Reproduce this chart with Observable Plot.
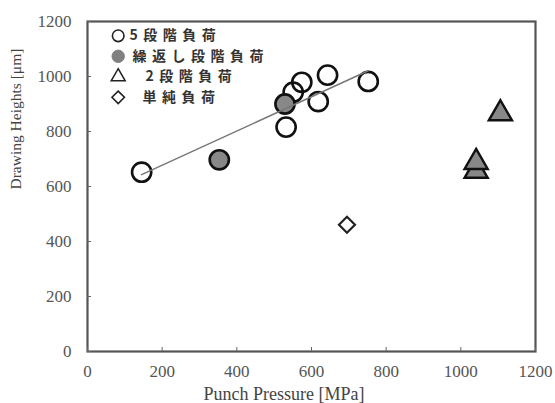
<!DOCTYPE html>
<html><head><meta charset="utf-8">
<script src="https://cdn.jsdelivr.net/npm/d3@7"></script>
<script src="https://cdn.jsdelivr.net/npm/@observablehq/plot@0.6"></script>
<style>
html,body{margin:0;padding:0;background:#fff;}
</style></head><body><div id="chart"></div>
<script>
// ---- data ----
const seriesNames = ["5段階負荷", "繰返し段階負荷", "2段階負荷", "単純負荷"];
const fiveStepX = [145, 532, 551, 574, 618, 643, 752];
const fiveStepY = [652, 816, 943, 979, 909, 1005, 982];
const repeatX = [353, 529];
const repeatY = [697, 900];
const twoStepX = [1041, 1041, 1106];
const twoStepY = [656, 688, 865];
const simpleX = [695];
const simpleY = [461];
const trendX = [145, 752];
const trendY = [643, 1021];
const xTicks = [0, 200, 400, 600, 800, 1000, 1200];
const yTicks = [0, 200, 400, 600, 800, 1000, 1200];
const xLabel = "Punch Pressure [MPa]";
const yLabel = "Drawing Heights [μm]";

const zip = (xs, ys) => xs.map((x, i) => ({x, y: ys[i]}));
const fiveStep = zip(fiveStepX, fiveStepY);
const repeat = zip(repeatX, repeatY);
const twoStep = zip(twoStepX, twoStepY);
const simple = zip(simpleX, simpleY);
const trend = zip(trendX, trendY);

const serif = "'Liberation Serif', 'Times New Roman', serif";
const cjk = "'Noto Sans CJK JP', 'Noto Sans', sans-serif";

// legend rows (styles only)
const legendStyle = [
  {symbol: "circle", fill: "none", stroke: "#222", r: 5.8, sw: 1.6, tdx: 42},
  {symbol: "circle", fill: "#808080", stroke: "#808080", r: 6.2, sw: 1, tdx: 45},
  {symbol: "triangle", fill: "none", stroke: "#222", r: 5.2, sw: 1.5, tdx: 58},
  {symbol: "diamond2", fill: "none", stroke: "#222", r: 5.6, sw: 1.6, tdx: 55}
];
const legendMarks = [];
seriesNames.forEach((name, i) => {
  const s = legendStyle[i];
  const dy = 14.3 + i * 20.5;
  legendMarks.push(Plot.dot([name], {frameAnchor: "top-left", dx: 30.7, dy, symbol: s.symbol, r: s.r,
    fill: s.fill, stroke: s.stroke, strokeWidth: s.sw}));
  legendMarks.push(Plot.text([name], {frameAnchor: "top-left", dx: s.tdx, dy, text: d => d,
    textAnchor: "start", lineAnchor: "middle", fontFamily: cjk, fontSize: 14, fontWeight: "bold",
    fill: "#333"}));
});

const fmt = d => String(d);

const chart = Plot.plot({
  width: 555,
  height: 403,
  marginLeft: 87,
  marginRight: 20,
  marginTop: 21,
  marginBottom: 52,
  x: {domain: [0, 1200]},
  y: {domain: [0, 1200]},
  style: {background: "#fff", overflow: "visible"},
  marks: [
    Plot.frame({stroke: "#555", strokeWidth: 2.2}),
    Plot.axisX({ticks: xTicks, tickSize: 4, dy: -4, text: null, stroke: "#666", label: null}),
    Plot.axisY({ticks: yTicks, tickSize: 4, dx: 4, text: null, stroke: "#666", label: null}),
    Plot.axisX({ticks: xTicks, tickFormat: fmt, tickSize: 0, tickPadding: 13, fontSize: 17, fontFamily: serif, fill: "#555", label: null}),
    Plot.axisY({ticks: yTicks, tickFormat: fmt, tickSize: 0, tickPadding: 16, fontSize: 17, fontFamily: serif, fill: "#555", label: null}),
    Plot.text([xLabel], {frameAnchor: "bottom", dx: -27.5, dy: 43, text: d => d, fontFamily: serif, fontSize: 18, fill: "#444", lineAnchor: "middle"}),
    Plot.text([yLabel], {frameAnchor: "left", dx: -71.5, dy: 3, rotate: -90, text: d => d, fontFamily: serif, fontSize: 15.5, fill: "#444", lineAnchor: "middle"}),
    Plot.dot(fiveStep, {x: "x", y: "y", r: 9.6, fill: "none", stroke: "#111", strokeWidth: 2.6}),
    Plot.dot(repeat, {x: "x", y: "y", r: 9.6, fill: "#888", stroke: "#111", strokeWidth: 2.6}),
    Plot.dot(twoStep, {x: "x", y: "y", symbol: "triangle", r: 8.6, fill: "#888", stroke: "#111", strokeWidth: 2.4}),
    Plot.dot(simple, {x: "x", y: "y", symbol: "diamond2", r: 7.2, fill: "none", stroke: "#222", strokeWidth: 2.2}),
    Plot.line(trend, {x: "x", y: "y", stroke: "#777", strokeWidth: 1.5}),
    ...legendMarks
  ]
});
d3.select(chart).selectAll("text")
  .filter(function() { return seriesNames.includes(this.textContent); })
  .style("letter-spacing", "5.5px");
document.getElementById("chart").appendChild(chart);
</script>
</body></html>
